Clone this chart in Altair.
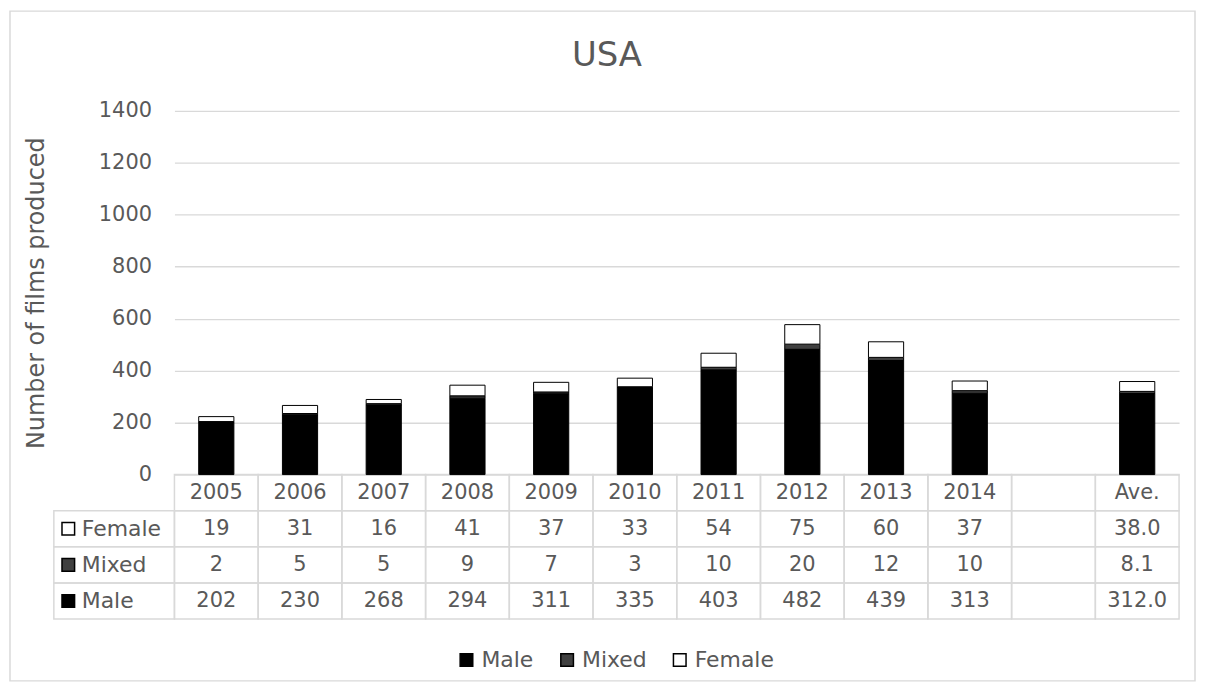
import altair as alt
import pandas as pd

# ---- data ----
categories = ["2005", "2006", "2007", "2008", "2009", "2010",
              "2011", "2012", "2013", "2014", " ", "Ave."]
female = [19, 31, 16, 41, 37, 33, 54, 75, 60, 37, None, 38.0]
mixed = [2, 5, 5, 9, 7, 3, 10, 20, 12, 10, None, 8.1]
male = [202, 230, 268, 294, 311, 335, 403, 482, 439, 313, None, 312.0]
series = ["Male", "Mixed", "Female"]
series_colors = ["#000000", "#404040", "#ffffff"]
table_rows = ["hdr", "Female", "Mixed", "Male"]
y_ticks = [0, 200, 400, 600, 800, 1000, 1200, 1400]

GRAY = "#595959"
LINE = "#d9d9d9"
FONT = "DejaVu Sans"

W, H = 1008, 365          # plot area
TABLE_BOTTOM = 510        # table rows drawn below the plot area
LABEL_W = 121             # width of the row-label column

values_by_series = {"Male": male, "Mixed": mixed, "Female": female}


def fmt(cat, v):
    if v is None:
        return ""
    return f"{v:.1f}" if cat == "Ave." else str(int(v))


bar_records = []
for i, c in enumerate(categories):
    for k, s in enumerate(series):
        v = values_by_series[s][i]
        if v is not None:
            bar_records.append({"cat": c, "series": s, "value": v, "ord": k})
bars_df = pd.DataFrame(bar_records)

cell_records = []
for i, c in enumerate(categories):
    cell_records.append({"cat": c, "row": "hdr", "text": c.strip()})
    for s in ["Female", "Mixed", "Male"]:
        cell_records.append({"cat": c, "row": s, "text": fmt(c, values_by_series[s][i])})
cells_df = pd.DataFrame(cell_records)

labels_df = pd.DataFrame({"col": ["lbl"] * 3,
                          "row": ["Female", "Mixed", "Male"],
                          "series": ["Female", "Mixed", "Male"]})

fill_scale = alt.Scale(domain=series, range=series_colors)
row_scale = alt.Scale(domain=table_rows, range=[H, TABLE_BOTTOM], paddingInner=0, paddingOuter=0)
cat_scale = alt.Scale(domain=categories, paddingInner=0, paddingOuter=0)

legend_def = alt.Legend(orient="none", legendX=282, legendY=540,
                        direction="horizontal", title=None,
                        symbolType="square", symbolSize=160,
                        symbolStrokeColor="black", symbolStrokeWidth=1.5,
                        labelFont=FONT, labelFontSize=22, labelColor=GRAY,
                        labelOffset=4, columnPadding=22)

# frame around the whole chart (decoration)
frame = alt.Chart(pd.DataFrame({"a": [0]})).mark_rect(
    fill="transparent", stroke=LINE, strokeWidth=1.5
).encode(x=alt.value(-165), x2=alt.value(1024), y=alt.value(-100), y2=alt.value(572))

bars = alt.Chart(bars_df).mark_bar(
    width=alt.RelativeBandSize(0.42), stroke="black", strokeWidth=1
).encode(
    x=alt.X("cat:N", scale=cat_scale, sort=categories, axis=None),
    y=alt.Y("value:Q", stack="zero",
            scale=alt.Scale(domain=[0, 1400], nice=False),
            axis=alt.Axis(values=y_ticks, format="d", title="Number of films produced",
                          grid=True, gridColor=LINE, gridWidth=1.3,
                          ticks=False, domain=False,
                          labelFont=FONT, labelFontSize=21, labelColor=GRAY,
                          labelPadding=23,
                          titleFont=FONT, titleFontSize=24, titleColor=GRAY,
                          titleFontWeight="normal", titlePadding=50)),
    fill=alt.Fill("series:N", scale=fill_scale, sort=series, legend=legend_def),
    order=alt.Order("ord:Q"),
)

cells = alt.Chart(cells_df).mark_rect(
    fill="transparent", stroke=LINE, strokeWidth=1.5
).encode(
    x=alt.X("cat:N", scale=cat_scale, sort=categories, axis=None),
    y=alt.Y("row:N", scale=row_scale, sort=table_rows, axis=None),
)

cell_text = alt.Chart(cells_df).mark_text(
    font=FONT, fontSize=21, color=GRAY, baseline="middle", align="center"
).encode(
    x=alt.X("cat:N", scale=cat_scale, sort=categories, axis=None),
    y=alt.Y("row:N", scale=row_scale, sort=table_rows, axis=None),
    text="text:N",
)

label_cells = alt.Chart(labels_df).mark_rect(
    fill="transparent", stroke=LINE, strokeWidth=1.5
).encode(
    x=alt.X("col:N", scale=alt.Scale(domain=["lbl"], range=[-LABEL_W, 0],
                                     paddingInner=0, paddingOuter=0), axis=None),
    y=alt.Y("row:N", scale=row_scale, sort=table_rows, axis=None),
)

label_swatch = alt.Chart(labels_df).mark_square(
    size=160, stroke="black", strokeWidth=1.5, opacity=1
).encode(
    x=alt.X("col:N", scale=alt.Scale(domain=["lbl"], range=[-LABEL_W, -LABEL_W + 29],
                                     paddingInner=0, paddingOuter=0), axis=None),
    y=alt.Y("row:N", scale=row_scale, sort=table_rows, axis=None),
    fill=alt.Fill("series:N", scale=fill_scale, sort=series, legend=legend_def),
)

label_text = alt.Chart(labels_df).mark_text(
    font=FONT, fontSize=22, color=GRAY, baseline="middle", align="left"
).encode(
    x=alt.X("col:N", scale=alt.Scale(domain=["lbl"], range=[-100, -86],
                                     paddingInner=0, paddingOuter=0), axis=None),
    y=alt.Y("row:N", scale=row_scale, sort=table_rows, axis=None),
    text="row:N",
)

chart = alt.layer(
    frame, cells, cell_text, label_cells, label_swatch, label_text, bars
).resolve_scale(
    x="independent", y="independent"
).properties(
    width=W, height=H, padding=1, background="white",
    title=alt.Title("USA", font=FONT, fontSize=34, color=GRAY,
                    fontWeight="normal", anchor="middle", offset=-63, dx=-70),
).configure_view(strokeWidth=0)

chart.save("out.html", embed_options={"renderer": "svg", "actions": False})
